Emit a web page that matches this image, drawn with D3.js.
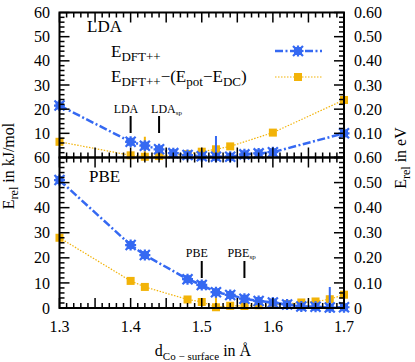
<!DOCTYPE html>
<html>
<head>
<meta charset="utf-8">
<script src="https://cdn.jsdelivr.net/npm/d3@7"></script>
<style>
  body { margin: 0; background: #fff; }
  text { font-family: "Liberation Serif", "DejaVu Serif", serif; fill: #000; }
</style>
</head>
<body>
<div id="chart"></div>
<script>
var width = 415,
    height = 362;

// LDA panel (top)
var ldaDftX = [1.30, 1.40, 1.42, 1.44, 1.46, 1.48, 1.50, 1.52, 1.54, 1.56, 1.58, 1.60, 1.70];
var ldaDftY = [21.5, 6.5, 4.9, 3.4, 1.8, 1.0, 0.5, 0.3, 0.3, 1.3, 1.7, 2.2, 10.0];
var ldaDftErr = [0, 0, 0, 0, 0, 0, 0, 8.6, 0, 0, 0, 0, 0];
var ldaCorrX = [1.30, 1.40, 1.42, 1.44, 1.48, 1.50, 1.52, 1.54, 1.60, 1.70];
var ldaCorrY = [6.5, 0.9, 0.3, 0.6, 1.4, 2.4, 3.4, 4.6, 10.3, 23.8];
var ldaCorrErr = [0, 0, 8.3, 0, 0, 0, 0, 0, 0, 0];

// PBE panel (bottom)
var pbeDftX = [1.30, 1.40, 1.42, 1.48, 1.50, 1.52, 1.54, 1.56, 1.58, 1.60, 1.62, 1.64, 1.66, 1.68, 1.70];
var pbeDftY = [51.0, 25.1, 21.1, 11.5, 9.2, 6.3, 5.2, 3.7, 2.8, 2.2, 1.4, 0.6, 0.5, 0.2, 0.3];
var pbeDftErr = [0, 0, 0, 0, 0, 0, 0, 0, 0, 0, 0, 0, 0, 8.2, 0];
var pbeCorrX = [1.30, 1.40, 1.42, 1.48, 1.50, 1.52, 1.54, 1.56, 1.58, 1.60, 1.62, 1.64, 1.66, 1.68, 1.70];
var pbeCorrY = [28.0, 10.8, 8.4, 3.4, 2.4, 0.3, 0.9, 0.8, 1.1, 1.2, 1.6, 2.2, 2.6, 3.5, 5.3];
var pbeCorrErr = [0, 0, 0, 0, 0, 7.7, 0, 0, 0, 0, 0, 0, 0, 0, 0];

// equilibrium markers (label offset is relative to the marker line)
var ldaMarks = [{x: 1.40, label: "LDA", sub: "", dx: -17}, {x: 1.44, label: "LDA", sub: "sp", dx: -8}];
var pbeMarks = [{x: 1.50, label: "PBE", sub: "", dx: -16}, {x: 1.56, label: "PBE", sub: "sp", dx: -17}];

var xTicks = [1.3, 1.4, 1.5, 1.6, 1.7];
var yTicksKJ = [0, 10, 20, 30, 40, 50, 60];
var yTicksEV = [0, 0.1, 0.2, 0.3, 0.4, 0.5, 0.6];

var blue = "#3569f2", gold = "#f2b308";

var x = d3.scaleLinear().domain([1.3, 1.7]).range([59.5, 344]);
var yTop = d3.scaleLinear().domain([0, 60]).range([157.5, 12.5]);
var yBot = d3.scaleLinear().domain([0, 60]).range([308, 157.5]);
var eTop = d3.scaleLinear().domain([0, 0.6]).range(yTop.range());
var eBot = d3.scaleLinear().domain([0, 0.6]).range(yBot.range());

var svg = d3.select("#chart").append("svg")
    .attr("width", width)
    .attr("height", height);

var defs = svg.append("defs");
[["clipTop", yTop], ["clipBot", yBot]].forEach(function(c) {
  defs.append("clipPath").attr("id", c[0]).append("rect")
    .attr("x", x.range()[0]).attr("y", c[1].range()[1])
    .attr("width", x.range()[1] - x.range()[0])
    .attr("height", c[1].range()[0] - c[1].range()[1]);
});

function fmtKJ(d) { return d === 0 ? "0" : String(d); }
function fmtEV(d) { return d === 0 ? "0" : d.toFixed(2); }

function drawLabels(y, e, showZero) {
  var t = svg.append("g");
  var kj = showZero ? yTicksKJ : yTicksKJ.slice(1);
  var ev = showZero ? yTicksEV : yTicksEV.slice(1);
  t.selectAll(".lk").data(kj).enter().append("text")
    .attr("x", 50).attr("y", function(d) { return y(d); })
    .attr("dy", "0.35em").attr("text-anchor", "end")
    .attr("font-size", 16).text(fmtKJ);
  t.selectAll(".le").data(ev).enter().append("text")
    .attr("x", 354).attr("y", function(d) { return e(d); })
    .attr("dy", "0.35em").attr("text-anchor", "start")
    .attr("font-size", 16).text(fmtEV);
}

function drawFrame(y, e) {
  var x0 = x.range()[0], x1 = x.range()[1];
  var y0 = y.range()[0], y1 = y.range()[1];
  var ticks = [];
  // x ticks on bottom and top edges, pointing inward
  d3.range(0, 41).forEach(function(i) {
    var len = i % 5 === 0 ? 10 : 5, px = x(1.3 + i * 0.01);
    ticks.push([px, y0, px, y0 - len], [px, y1, px, y1 + len]);
  });
  // y ticks left (kJ/mol) and right (eV)
  d3.range(0, 31).forEach(function(i) {
    var len = i % 5 === 0 ? 10 : 5;
    var py = y(i * 2), pe = e(i * 0.02);
    ticks.push([x0, py, x0 + len, py], [x1, pe, x1 - len, pe]);
  });
  svg.append("g").selectAll("line").data(ticks).enter().append("line")
    .attr("x1", function(d) { return d[0]; })
    .attr("y1", function(d) { return d[1]; })
    .attr("x2", function(d) { return d[2]; })
    .attr("y2", function(d) { return d[3]; })
    .style("stroke", "#000")
    .style("stroke-width", "1.5px");

  svg.append("rect")
    .attr("x", x0).attr("y", y1)
    .attr("width", x1 - x0)
    .attr("height", y0 - y1)
    .attr("fill", "none").attr("stroke", "#000").attr("stroke-width", 2);
}

function drawSeries(xs, ys, errs, y, clip, color, kind) {
  var g = svg.append("g");
  var pts = xs.map(function(d, i) { return {x: d, y: ys[i], e: errs[i]}; });
  var line = d3.line().x(function(d) { return x(d.x); }).y(function(d) { return y(d.y); });

  g.append("path").datum(pts)
    .attr("d", line)
    .attr("fill", "none")
    .attr("stroke", color)
    .attr("stroke-width", kind === "star" ? 2.5 : 1.2)
    .attr("stroke-dasharray", kind === "star" ? "8,2.5,2,2.5" : "1.5,1.5");

  g.append("g").attr("clip-path", "url(#" + clip + ")")
    .selectAll("line").data(pts.filter(function(d) { return d.e > 0; }))
    .enter().append("line")
    .attr("x1", function(d) { return x(d.x); })
    .attr("x2", function(d) { return x(d.x); })
    .attr("y1", function(d) { return y(d.y - d.e); })
    .attr("y2", function(d) { return y(d.y + d.e); })
    .attr("stroke", color).attr("stroke-width", 2);

  var m = g.selectAll(".m").data(pts).enter().append("g")
    .attr("transform", function(d) { return "translate(" + x(d.x) + "," + y(d.y) + ")"; });
  drawMarker(m, color, kind);
}

function drawMarker(sel, color, kind) {
  if (kind === "star") {
    sel.append("rect").attr("x", -4).attr("y", -4).attr("width", 8).attr("height", 8)
      .attr("fill", color);
    sel.append("path").attr("d", "M-5,-5L5,5M-5,5L5,-5M-5.5,0L5.5,0M0,-5.5L0,5.5")
      .attr("stroke", color).attr("stroke-width", 2.2);
  } else {
    sel.append("rect").attr("x", -4).attr("y", -4).attr("width", 8).attr("height", 8)
      .attr("fill", color);
  }
}

function drawMarks(marks, textY, lineTop, lineBot) {
  var g = svg.append("g");
  marks.forEach(function(d) {
    g.append("line")
      .attr("x1", x(d.x)).attr("x2", x(d.x))
      .attr("y1", lineTop).attr("y2", lineBot)
      .attr("stroke", "#000").attr("stroke-width", 2);
    var t = g.append("text").attr("x", x(d.x) + d.dx).attr("y", textY)
      .attr("font-size", 12);
    t.append("tspan").text(d.label);
    if (d.sub) t.append("tspan").attr("font-size", 7).attr("dy", 2).text(d.sub);
  });
}

drawLabels(yBot, eBot, true);
drawLabels(yTop, eTop, false);

drawSeries(ldaCorrX, ldaCorrY, ldaCorrErr, yTop, "clipTop", gold, "square");
drawSeries(ldaDftX, ldaDftY, ldaDftErr, yTop, "clipTop", blue, "star");
drawSeries(pbeCorrX, pbeCorrY, pbeCorrErr, yBot, "clipBot", gold, "square");
drawSeries(pbeDftX, pbeDftY, pbeDftErr, yBot, "clipBot", blue, "star");

drawMarks(ldaMarks, 113, 116, 133);
drawMarks(pbeMarks, 257, 261, 278);

// panel titles
svg.append("text").attr("x", 87).attr("y", 32).attr("font-size", 17).text("LDA");
svg.append("text").attr("x", 89).attr("y", 182).attr("font-size", 17).text("PBE");

// legend
var legend = svg.append("g");
var l1 = legend.append("text").attr("x", 111).attr("y", 57).attr("font-size", 17);
l1.append("tspan").text("E");
l1.append("tspan").attr("font-size", 13).attr("dy", 4).text("DFT++");
var l2 = legend.append("text").attr("x", 111).attr("y", 82).attr("font-size", 17);
l2.append("tspan").text("E");
l2.append("tspan").attr("font-size", 13).attr("dy", 4).text("DFT++");
l2.append("tspan").attr("dy", -4).text("\u2212(E");
l2.append("tspan").attr("font-size", 13).attr("dy", 4).text("pot");
l2.append("tspan").attr("dy", -4).text("\u2212E");
l2.append("tspan").attr("font-size", 13).attr("dy", 4).text("DC");
l2.append("tspan").attr("dy", -4).text(")");

[[51, blue, "star"], [77, gold, "square"]].forEach(function(r) {
  legend.append("line").attr("x1", 275).attr("x2", 322).attr("y1", r[0]).attr("y2", r[0])
    .attr("stroke", r[1])
    .attr("stroke-width", r[2] === "star" ? 2.5 : 1.2)
    .attr("stroke-dasharray", r[2] === "star" ? "8,2.5,2,2.5" : "1.5,1.5");
  var m = legend.append("g").attr("transform", "translate(298," + r[0] + ")");
  drawMarker(m, r[1], r[2]);
});

// x tick labels
svg.append("g").selectAll("text").data(xTicks).enter().append("text")
  .attr("x", function(d) { return x(d); }).attr("y", 332)
  .attr("text-anchor", "middle").attr("font-size", 16)
  .text(function(d) { return d.toFixed(1); });

// axis titles
var xt = svg.append("text").attr("x", 203).attr("y", 356).attr("text-anchor", "middle").attr("font-size", 16);
xt.append("tspan").text("d");
xt.append("tspan").attr("font-size", 11).attr("dy", 4).text("Co \u2212 surface");
xt.append("tspan").attr("dy", -4).text(" in \u00c5");

var yl = svg.append("text").attr("transform", "translate(14,166) rotate(-90)")
  .attr("text-anchor", "middle").attr("font-size", 16);
yl.append("tspan").text("E");
yl.append("tspan").attr("font-size", 12).attr("dy", 4).text("rel");
yl.append("tspan").attr("dy", -4).text(" in kJ/mol");

var yr = svg.append("text").attr("transform", "translate(406,158) rotate(-90)")
  .attr("text-anchor", "middle").attr("font-size", 16);
yr.append("tspan").text("E");
yr.append("tspan").attr("font-size", 12).attr("dy", 4).text("rel");
yr.append("tspan").attr("dy", -4).text(" in eV");

// frames and ticks last so nothing covers them
drawFrame(yBot, eBot);
drawFrame(yTop, eTop);
</script>
</body>
</html>
